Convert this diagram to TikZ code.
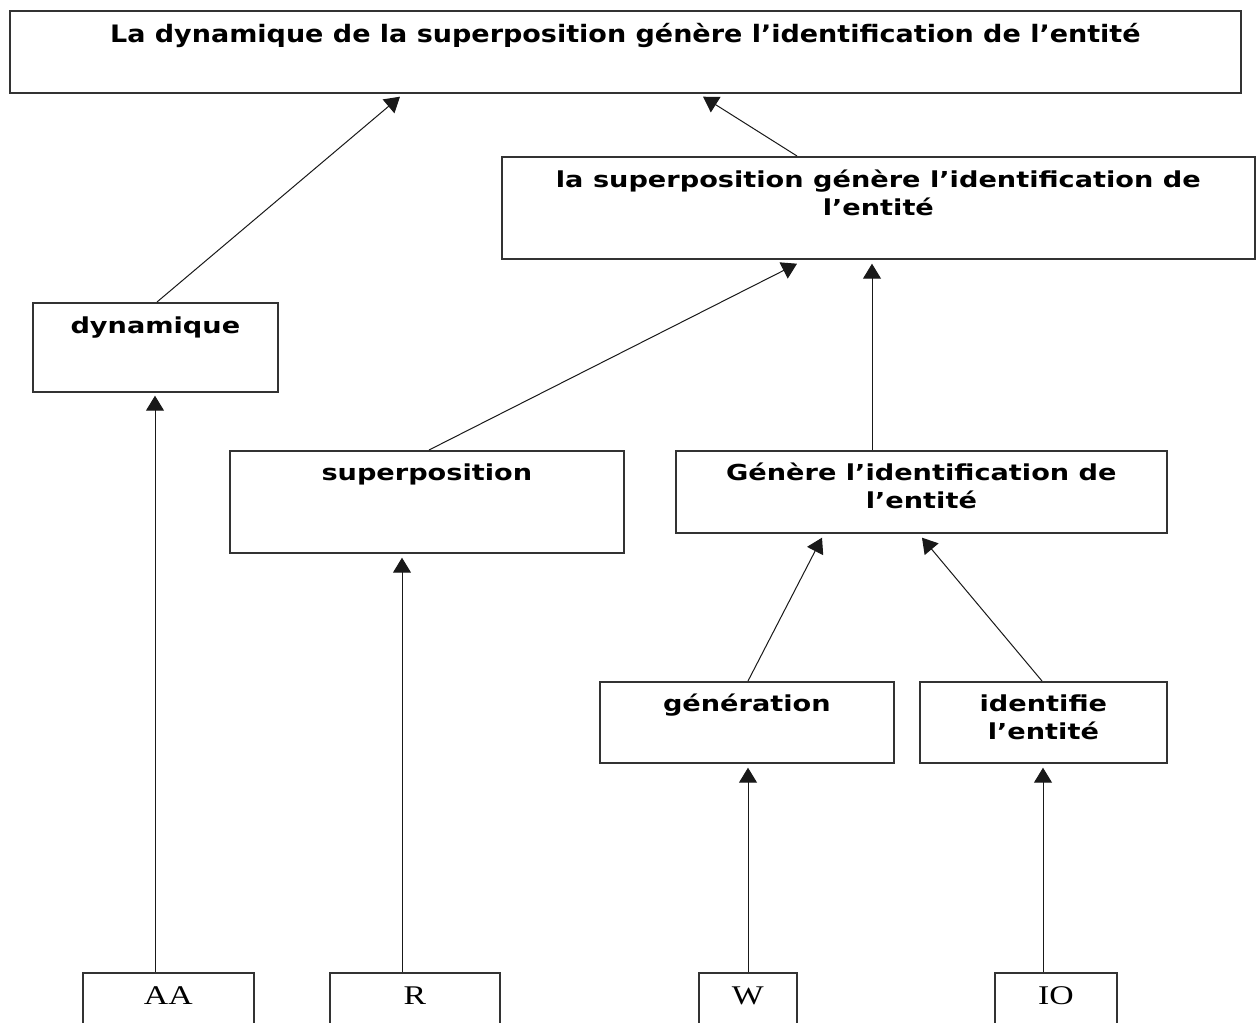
\documentclass[tikz,border=0pt]{standalone}
\usepackage{fontspec}
\usetikzlibrary{arrows.meta,calc}
% fonts of the boxes
\newfontfamily\titlefont{DejaVu Sans Bold}[FakeStretch=1.125]
\newfontfamily\labelfont{DejaVu Sans Bold}[FakeStretch=1.235]
\newfontfamily\leaffont{Liberation Serif}[FakeStretch=1.25]
% box body: width, height, first baseline, font, text
\newcommand{\boxbody}[5]{\parbox[t][#2][t]{#1}{\centering#4\rule{0pt}{#3}#5}}
\tikzset{
  box/.style={draw=black!80, line width=1.7pt, inner sep=0pt, anchor=north west},
  arr/.style={draw=black!90, line width=1pt, -{Triangle[length=15pt,width=18pt]}}
}
\begin{document}
\begin{tikzpicture}[x=1pt,y=-1pt]
\useasboundingbox[fill=white] (0,0) rectangle (1256,1023);

% levels of the tree
\node[box] (top) at (9,10) {\boxbody{1231pt}{82pt}{32pt}{\titlefont\fontsize{24}{28}\selectfont}{La dynamique de la superposition génère l’identification de l’entité}};
\node[box] (sg) at (501,156) {\boxbody{753pt}{102pt}{31pt}{\labelfont\fontsize{22}{28}\selectfont}{la superposition génère l’identification de\\l’entité}};
\node[box] (dyn) at (32,302) {\boxbody{245pt}{89pt}{31pt}{\labelfont\fontsize{22}{28}\selectfont}{dynamique}};
\node[box] (sup) at (229,450) {\boxbody{394pt}{102pt}{30pt}{\labelfont\fontsize{22}{28}\selectfont}{superposition}};
\node[box] (gen) at (675,450) {\boxbody{491pt}{82pt}{30pt}{\labelfont\fontsize{22}{28}\selectfont}{Génère l’identification de\\l’entité}};
\node[box] (gn) at (599,681) {\boxbody{294pt}{81pt}{30pt}{\labelfont\fontsize{22}{28}\selectfont}{génération}};
\node[box] (idf) at (919,681) {\boxbody{247pt}{81pt}{30pt}{\labelfont\fontsize{22}{28}\selectfont}{identifie\\l’entité}};

% leaves
\node[box] (aa) at (82,972) {\boxbody{171pt}{60pt}{32pt}{\leaffont\fontsize{27}{30}\selectfont}{AA}};
\node[box] (r) at (329,972) {\boxbody{170pt}{60pt}{32pt}{\leaffont\fontsize{27}{30}\selectfont}{R}};
\node[box] (w) at (698,972) {\boxbody{98pt}{60pt}{32pt}{\leaffont\fontsize{27}{30}\selectfont}{W}};
\node[box] (io) at (994,972) {\boxbody{122pt}{60pt}{32pt}{\leaffont\fontsize{27}{30}\selectfont}{IO}};

% connectors
\draw[arr] ($(dyn.north west)+(125,0)$) -- ($(top.south west)+(391,3)$);
\draw[arr] ($(sg.north west)+(296,0)$) -- ($(top.south west)+(694,3)$);
\draw[arr] ($(sup.north west)+(200,0)$) -- ($(sg.south west)+(296,4)$);
\draw[arr] ($(gen.north west)+(197,0)$) -- ($(sg.south west)+(371,4)$);
\draw[arr] ($(gn.north west)+(149,0)$) -- ($(gen.south west)+(147,4)$);
\draw[arr] ($(idf.north west)+(123,0)$) -- ($(gen.south west)+(247,4)$);
\draw[arr] ($(aa.north west)+(73,0)$) -- ($(dyn.south west)+(123,3)$);
\draw[arr] ($(r.north west)+(73,0)$) -- ($(sup.south west)+(173,4)$);
\draw[arr] ($(w.north west)+(50,0)$) -- ($(gn.south west)+(149,4)$);
\draw[arr] ($(io.north west)+(49,0)$) -- ($(idf.south west)+(124,4)$);
\end{tikzpicture}
\end{document}
